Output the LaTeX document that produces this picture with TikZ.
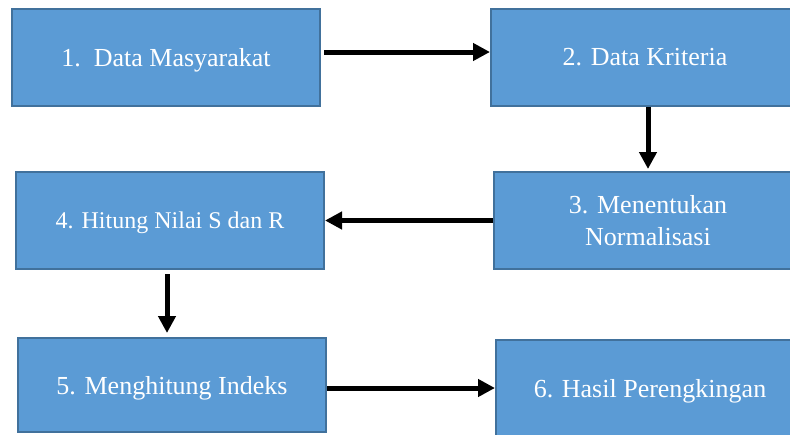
\documentclass[tikz,border=0pt]{standalone}
\usepackage{fontspec}
\setmainfont{Liberation Serif}
\usepackage{xcolor}
\usetikzlibrary{arrows.meta, positioning}
\definecolor{boxfill}{HTML}{5B9BD5}
\definecolor{boxline}{HTML}{41719C}

\begin{document}
\begin{tikzpicture}[x=1pt, y=-1pt,
  stage/.style={rectangle, draw=boxline, line width=2pt, fill=boxfill,
                minimum width=308pt, minimum height=97pt, align=center,
                text=white, font=\fontsize{26}{32}\selectfont, inner sep=0pt,
                text depth=0pt},
  arrow/.style={-{Triangle[length=17pt, width=17pt]}, line width=5pt}
]
  \useasboundingbox (0,0) rectangle (790,434);

  \node[stage] (d1) at (166,57)    {1.\ \ Data Masyarakat};
  \node[stage] (d2) at (645,57)    {2. Data Kriteria};
  \node[stage] (d3) at (648,220.5) {3. Menentukan\\Normalisasi};
  \node[stage, font=\fontsize{24}{30}\selectfont] (d4) at (170,220.5) {4. Hitung Nilai S dan R};
  \node[stage, minimum height=94pt] (d5) at (172,385) {5. Menghitung Indeks};
  \node[stage, minimum height=96pt] (d6) at (650,388) {6. Hasil Perengkingan};

  \draw[arrow, shorten <=3pt] ([yshift=5pt]d1.east) -- ([yshift=5pt]d1.east -| d2.west);
  \draw[arrow, shorten >=2pt] ([xshift=3pt]d2.south) -- ([xshift=3pt]d2.south |- d3.north);
  \draw[arrow] (d3.west) -- (d3.west -| d4.east);
  \draw[arrow, shorten <=4pt, shorten >=4pt] ([xshift=-3pt]d4.south) -- ([xshift=-3pt]d4.south |- d5.north);
  \draw[arrow] ([yshift=-3pt]d5.east) -- ([yshift=-3pt]d5.east -| d6.west);
\end{tikzpicture}
\end{document}
